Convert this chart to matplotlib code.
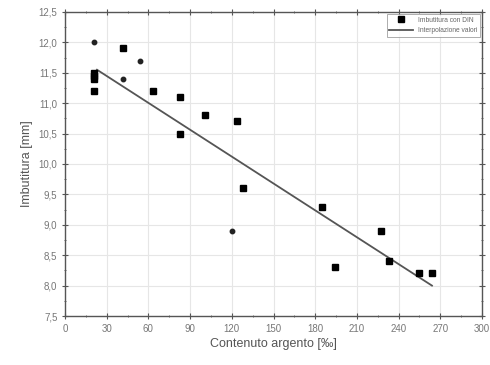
import matplotlib
matplotlib.use("Agg")
import matplotlib.pyplot as plt
from matplotlib.ticker import MultipleLocator, FuncFormatter

# measured points (Contenuto argento [permille], Imbutitura [mm])
ag_big = [21, 21, 21, 21, 42, 63, 83, 83, 101, 124, 128, 185, 194, 227, 233, 255, 264]
imb_big = [11.5, 11.45, 11.4, 11.2, 11.9, 11.2, 11.1, 10.5, 10.8, 10.7, 9.6, 9.3, 8.3, 8.9, 8.4, 8.2, 8.2]
# points that look smaller in the picture
ag_small = [21, 42, 54, 120]
imb_small = [12.0, 11.4, 11.7, 8.9]

# linear interpolation end points
fit_x = [23, 264]
fit_y = [11.55, 8.0]

plt.rcParams['font.family'] = ['Liberation Sans', 'DejaVu Sans']

fig = plt.figure(figsize=(4.9, 3.65), dpi=100)
ax = fig.add_axes([0.1327, 0.1342, 0.8510, 0.8330])

ax.plot(fit_x, fit_y, '-', color='#555555', lw=1.3, label='Interpolazione valori', zorder=3)
ax.plot(ag_big, imb_big, 's', color='black', ms=5, label='Imbutitura con DIN', zorder=4)
ax.plot(ag_small, imb_small, 'o', color='#222222', ms=3.2, zorder=4)

ax.set_xlim(0, 300)
ax.set_ylim(7.5, 12.5)
ax.xaxis.set_major_locator(MultipleLocator(30))
ax.xaxis.set_minor_locator(MultipleLocator(15))
ax.yaxis.set_major_locator(MultipleLocator(0.5))
ax.yaxis.set_minor_locator(MultipleLocator(0.25))
ax.yaxis.set_major_formatter(FuncFormatter(lambda v, p: ('%.1f' % v).replace('.', ',')))

ax.grid(True, which='major', color='#e6e6e6', lw=0.8)
ax.set_axisbelow(True)

for s in ax.spines.values():
    s.set_color('#555555')
    s.set_linewidth(1.0)

ax.tick_params(which='both', top=True, right=True, colors='#555555',
               labelcolor='#777777', labelsize=7)
ax.tick_params(which='major', length=4, direction='inout')
ax.tick_params(which='minor', length=2, direction='inout')

ax.set_xlabel('Contenuto argento [‰]', fontsize=9, color='#555555', labelpad=3)
ax.set_ylabel('Imbutitura [mm]', fontsize=9, color='#555555', labelpad=4)

h, l = ax.get_legend_handles_labels()
leg = ax.legend([h[1], h[0]], [l[1], l[0]], loc='upper right', fontsize=4.8,
                frameon=True, fancybox=False, edgecolor='#888888',
                borderaxespad=0.3, handlelength=3.5, labelcolor='#666666')
leg.get_frame().set_linewidth(0.6)

fig.savefig('out.png', dpi=100)
